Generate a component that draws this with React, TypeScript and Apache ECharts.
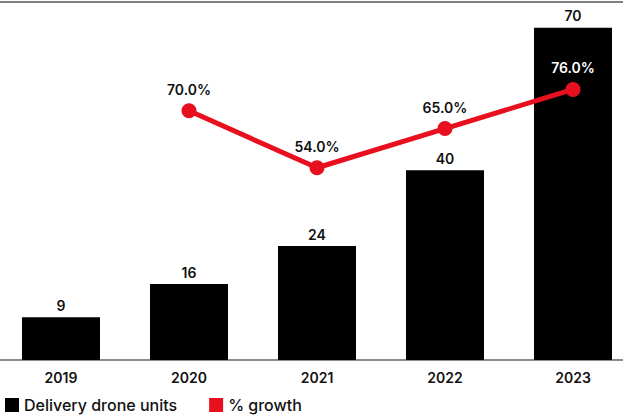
import React, { useEffect, useRef } from "react";
import * as echarts from "echarts";

const years = ["2019", "2020", "2021", "2022", "2023"];
const droneUnits = [9, 16, 24, 40, 70];
const growthPct: (number | null)[] = [null, 70, 54, 65, 76];
const seriesNames = ["Delivery drone units", "% growth"];

const FONT = "Inter, 'Noto Sans', sans-serif";
const OFFSET = 3;

export default function App() {
  const ref = useRef<HTMLDivElement>(null);
  useEffect(() => {
    if (!ref.current) return;
    const chart = echarts.init(ref.current, null, { renderer: "svg" });
    chart.setOption({
      animation: false,
      textStyle: { fontFamily: FONT },
      grid: { left: 0, right: 0, top: 4, height: 356, containLabel: false },
      legend: {
        left: OFFSET,
        bottom: -1,
        itemWidth: 14,
        itemHeight: 14,
        itemGap: 32,
        icon: "rect",
        data: seriesNames,
        textStyle: { fontFamily: FONT, fontSize: 16, color: "#111", fontWeight: 500 },
      },
      graphic: [
        {
          type: "line",
          shape: { x1: OFFSET, y1: 2, x2: 623 + OFFSET, y2: 2 },
          style: { stroke: "#555", lineWidth: 1.5 },
        },
      ],
      xAxis: {
        type: "category",
        data: years,
        axisLine: { show: true, lineStyle: { color: "#666", width: 1.5 } },
        axisTick: { show: false },
        axisLabel: { fontFamily: FONT, fontSize: 14, fontWeight: 600, color: "#111", margin: 10 },
      },
      yAxis: [
        { type: "value", min: 0, max: 75, show: false, splitLine: { show: false } },
        { type: "value", min: 0, max: 100, show: false, splitLine: { show: false } },
      ],
      series: [
        {
          name: seriesNames[0],
          type: "bar",
          data: droneUnits,
          barWidth: 78,
          itemStyle: { color: "#000" },
          label: {
            show: true,
            position: "top",
            distance: 5,
            fontFamily: FONT,
            fontSize: 14,
            fontWeight: 600,
            color: "#111",
          },
        },
        {
          name: seriesNames[1],
          type: "line",
          yAxisIndex: 1,
          data: growthPct.map((v, i) =>
            i === growthPct.length - 1
              ? { value: v, label: { color: "#fff" } }
              : v
          ),
          connectNulls: false,
          symbol: "circle",
          symbolSize: 15,
          lineStyle: { color: "#e8101f", width: 5 },
          itemStyle: { color: "#e8101f" },
          label: {
            show: true,
            position: "top",
            distance: 7,
            fontFamily: FONT,
            fontSize: 14,
            fontWeight: 600,
            color: "#111",
            formatter: (p: any) => (p.value == null ? "" : `${Number(p.value).toFixed(1)}%`),
          },
        },
      ],
    });
    return () => chart.dispose();
  }, []);
  return (
    <div
      ref={ref}
      style={{ position: "fixed", left: -OFFSET, top: 0, width: 640, height: 417, background: "#fff" }}
    />
  );
}
